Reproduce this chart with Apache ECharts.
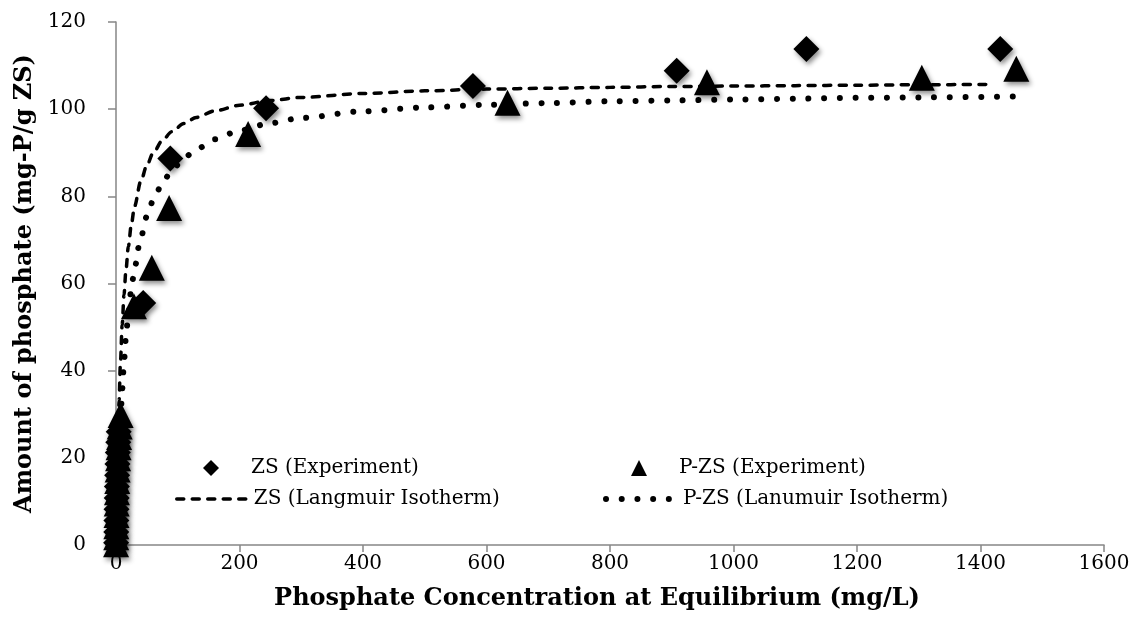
<!DOCTYPE html>
<html>
<head>
<meta charset="utf-8">
<script src="https://cdn.jsdelivr.net/npm/echarts@6/dist/echarts.min.js"></script>
<style>
html,body{margin:0;padding:0;background:#fff;}
#chart{width:1134px;height:631px;}
</style>
</head>
<body>
<div id="chart"></div>
<script>
// ---- data ----
const zsExpX  = [0.2, 0.4, 0.6, 0.8, 1.1, 1.4, 1.8, 2.3, 2.9, 3.6, 4.4, 44, 88, 243, 578, 908, 1118, 1432];
const zsExpY  = [0.5, 3.0, 5.6, 8.2, 10.8, 13.4, 16.0, 18.6, 21.2, 23.6, 26.0, 55.5, 88.7, 100.2, 105.3, 108.8, 113.8, 113.8];
const pzsExpX = [0.1, 0.3, 0.5, 0.8, 1.1, 1.5, 2.0, 2.6, 3.3, 4.1, 5.0, 6.0, 7.5, 29, 58, 86, 214, 634, 957, 1305, 1458];
const pzsExpY = [0.2, 1.8, 4.3, 6.9, 9.5, 12.1, 14.7, 17.3, 19.9, 22.4, 24.8, 27.2, 29.8, 54.8, 63.6, 77.3, 94.3, 101.5, 106.2, 107.2, 109.3];

const zsFitX  = [0, 1, 2, 3, 5, 7, 10, 13, 16, 20, 25, 30, 40, 50, 60, 75, 90, 110, 130, 160, 200, 250, 300, 400, 500, 600, 700, 800, 900, 1000, 1100, 1200, 1300, 1420];
const zsFitY  = [0, 8.8, 16.3, 22.6, 33.1, 41.2, 50.5, 57.4, 62.9, 68.5, 73.7, 77.7, 83.4, 87.1, 89.9, 92.8, 94.8, 96.7, 98.1, 99.6, 100.9, 102.0, 102.7, 103.6, 104.2, 104.6, 104.8, 105.0, 105.2, 105.3, 105.4, 105.5, 105.6, 105.7];
const pzsFitX = [0, 1, 2, 3, 5, 7, 10, 13, 16, 20, 25, 30, 40, 50, 60, 75, 90, 110, 130, 160, 200, 250, 300, 400, 500, 600, 700, 800, 900, 1000, 1100, 1200, 1300, 1460];
const pzsFitY = [0, 5.2, 9.9, 14.1, 21.6, 27.9, 35.8, 42.2, 47.5, 53.3, 59.0, 63.6, 70.5, 75.4, 79.0, 83.0, 85.9, 88.8, 90.8, 93.1, 95.1, 96.8, 98.0, 99.5, 100.4, 101.0, 101.4, 101.8, 102.0, 102.2, 102.4, 102.6, 102.7, 102.9];

const seriesNames = ['ZS (Experiment)', 'P-ZS (Experiment)', 'ZS (Langmuir Isotherm)', 'P-ZS (Lanumuir Isotherm)'];
const xTitle = 'Phosphate Concentration at Equilibrium (mg/L)';
const yTitle = 'Amount of phosphate (mg-P/g ZS)';

function pairs(xs, ys){ return xs.map((x,i)=>[x, ys[i]]); }

const FONT = 'DejaVu Serif';
const AXIS_COLOR = '#868686';
const markerStyle = {color:'#000', opacity:1, shadowBlur:5, shadowColor:'rgba(0,0,0,0.45)', shadowOffsetX:2, shadowOffsetY:3};
const dashStyle = {color:'#000', width:3.5, type:[7,8.5], cap:'round'};
const dotStyle  = {color:'#000', width:6, type:[0.01,15.7], cap:'round'};

const chart = echarts.init(document.getElementById('chart'), null, {renderer:'canvas'});

function markerLegend(name, left, top){
  return {
    data:[{name:name, itemStyle:{color:'#000', opacity:1, shadowBlur:0}}],
    left:left, top:top, padding:0, itemWidth:16, itemHeight:16,
    selectedMode:false,
    textStyle:{fontFamily:FONT, fontSize:20, color:'#000', padding:[0,0,0,27]}
  };
}
function lineLegend(name, left, top, ls){
  return {
    data:[{name:name, itemStyle:{opacity:0}, lineStyle:ls}],
    left:left, top:top, padding:0, itemWidth:72, itemHeight:16,
    selectedMode:false,
    textStyle:{fontFamily:FONT, fontSize:20, color:'#000'}
  };
}

chart.setOption({
  backgroundColor:'#fff',
  animation:false,
  grid:{left:116, right:30, top:22, bottom:86, containLabel:false},
  legend:[
    markerLegend(seriesNames[0], 203, 458),
    markerLegend(seriesNames[1], 631, 458),
    lineLegend(seriesNames[2], 175, 489, dashStyle),
    lineLegend(seriesNames[3], 603, 489, dotStyle)
  ],
  xAxis:{
    type:'value', min:0, max:1600, interval:200,
    name:xTitle, nameLocation:'middle', nameGap:42,
    nameTextStyle:{fontFamily:FONT, fontSize:24, fontWeight:'bold', color:'#000', padding:[0,26,0,0]},
    axisLine:{show:true, onZero:false, lineStyle:{color:AXIS_COLOR, width:1.5}},
    axisTick:{show:true, inside:false, length:7, lineStyle:{color:AXIS_COLOR, width:1.5}},
    axisLabel:{fontFamily:FONT, fontSize:20, color:'#000', margin:9, formatter:function(v){return String(v);}},
    splitLine:{show:false}
  },
  yAxis:{
    type:'value', min:0, max:120, interval:20,
    name:yTitle, nameLocation:'middle', nameGap:78, nameRotate:90,
    nameTextStyle:{fontFamily:FONT, fontSize:24, fontWeight:'bold', color:'#000'},
    axisLine:{show:true, lineStyle:{color:AXIS_COLOR, width:1.5}},
    axisTick:{show:true, inside:false, length:8, lineStyle:{color:AXIS_COLOR, width:1.5}},
    axisLabel:{fontFamily:FONT, fontSize:20, color:'#000', margin:30, formatter:function(v){return String(v);}},
    splitLine:{show:false}
  },
  series:[
    {name:seriesNames[2], type:'line', showSymbol:false, symbol:'none', smooth:0.3, smoothMonotone:'x', z:3,
     itemStyle:{color:'#000'}, lineStyle:dashStyle, data:pairs(zsFitX, zsFitY)},
    {name:seriesNames[3], type:'line', showSymbol:false, symbol:'none', smooth:0.3, smoothMonotone:'x', z:3,
     itemStyle:{color:'#000'}, lineStyle:dotStyle, data:pairs(pzsFitX, pzsFitY)},
    {name:seriesNames[0], type:'scatter', symbol:'diamond', symbolSize:26, z:5,
     itemStyle:markerStyle, data:pairs(zsExpX, zsExpY)},
    {name:seriesNames[1], type:'scatter', symbol:'triangle', symbolSize:26, z:5,
     itemStyle:markerStyle, data:pairs(pzsExpX, pzsExpY)}
  ]
});
</script>
</body>
</html>
